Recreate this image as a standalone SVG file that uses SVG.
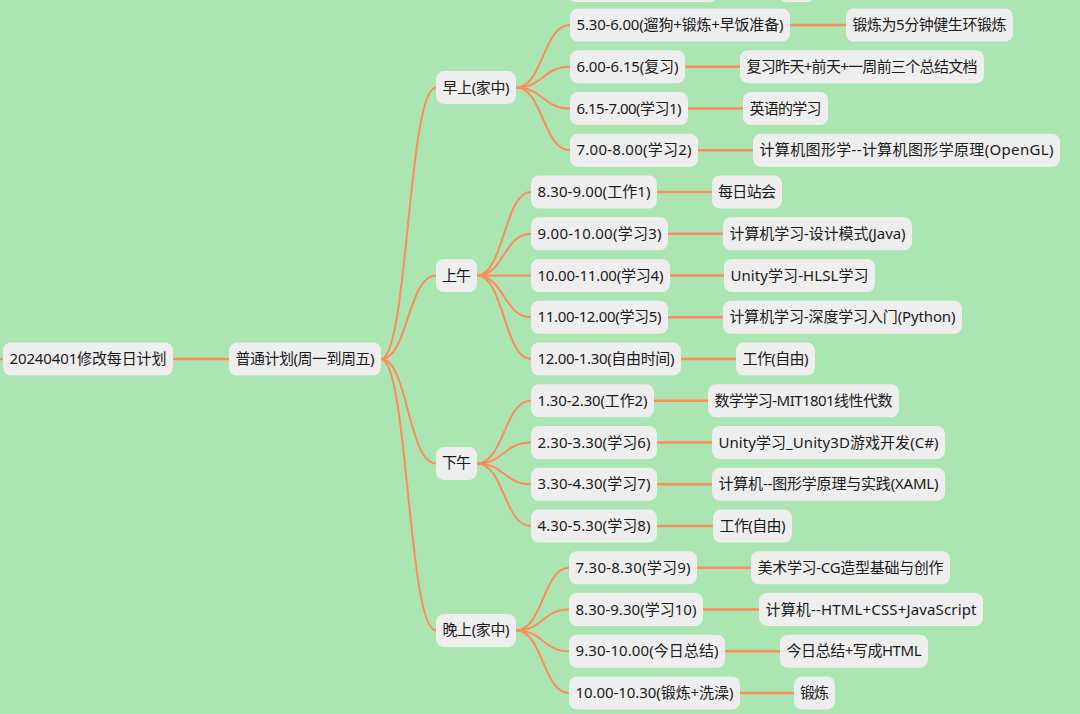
<svg xmlns="http://www.w3.org/2000/svg" width="1080" height="714" viewBox="0 0 1080 714">
<style>
.bg{fill:#abe6b2}
.box{fill:#eeeeee}
.t{font-family:"Noto Sans","Noto Sans CJK SC",sans-serif;font-size:15px;fill:#1a1a1a;text-anchor:middle}
.c{fill:none;stroke:#ff8a5b;stroke-width:2}
.s{fill:none;stroke:#ff8a5b;stroke-width:2.6}
</style>
<rect class="bg" x="0" y="0" width="1080" height="714"/>
<g id="connectors">
<line class="s" x1="0" y1="359" x2="3" y2="359"/>
<line class="s" x1="173" y1="359" x2="229" y2="359"/>
<path class="c" d="M381 359 C408 359 408 87.6 436 87.6"/>
<path class="c" d="M381 359 C408 359 408 275.5 436 275.5"/>
<path class="c" d="M381 359 C408 359 408 463.4 436 463.4"/>
<path class="c" d="M381 359 C408 359 408 630.4 436 630.4"/>
<path class="c" d="M516 87.6 C543 87.6 543 25 570 25"/>
<path class="c" d="M516 87.6 C543 87.6 543 66.75 570 66.75"/>
<path class="c" d="M516 87.6 C543 87.6 543 108.5 570 108.5"/>
<path class="c" d="M516 87.6 C543 87.6 543 150.25 570 150.25"/>
<path class="c" d="M477 275.5 C504 275.5 504 192 531 192"/>
<path class="c" d="M477 275.5 C504 275.5 504 233.75 531 233.75"/>
<path class="c" d="M477 275.5 C504 275.5 504 275.5 531 275.5"/>
<path class="c" d="M477 275.5 C504 275.5 504 317.25 531 317.25"/>
<path class="c" d="M477 275.5 C504 275.5 504 359 531 359"/>
<path class="c" d="M477 463.4 C504 463.4 504 400.75 531 400.75"/>
<path class="c" d="M477 463.4 C504 463.4 504 442.5 531 442.5"/>
<path class="c" d="M477 463.4 C504 463.4 504 484.25 531 484.25"/>
<path class="c" d="M477 463.4 C504 463.4 504 526 531 526"/>
<path class="c" d="M516 630.4 C543 630.4 543 567.75 569 567.75"/>
<path class="c" d="M516 630.4 C543 630.4 543 609.5 569 609.5"/>
<path class="c" d="M516 630.4 C543 630.4 543 651.25 569 651.25"/>
<path class="c" d="M516 630.4 C543 630.4 543 693 569 693"/>
<line class="s" x1="790" y1="25" x2="846" y2="25"/>
<line class="s" x1="685" y1="66.75" x2="740" y2="66.75"/>
<line class="s" x1="688" y1="108.5" x2="743" y2="108.5"/>
<line class="s" x1="698" y1="150.25" x2="753" y2="150.25"/>
<line class="s" x1="657" y1="192" x2="712" y2="192"/>
<line class="s" x1="668" y1="233.75" x2="723" y2="233.75"/>
<line class="s" x1="670" y1="275.5" x2="724" y2="275.5"/>
<line class="s" x1="668" y1="317.25" x2="723" y2="317.25"/>
<line class="s" x1="681" y1="359" x2="736" y2="359"/>
<line class="s" x1="654" y1="400.75" x2="708" y2="400.75"/>
<line class="s" x1="657" y1="442.5" x2="712" y2="442.5"/>
<line class="s" x1="657" y1="484.25" x2="712" y2="484.25"/>
<line class="s" x1="657" y1="526" x2="713" y2="526"/>
<line class="s" x1="697" y1="567.75" x2="751" y2="567.75"/>
<line class="s" x1="703" y1="609.5" x2="759" y2="609.5"/>
<line class="s" x1="725" y1="651.25" x2="780" y2="651.25"/>
<line class="s" x1="740" y1="693" x2="794" y2="693"/>
</g>
<g id="partial-top-1"><rect class="box" x="567" y="-31" width="151" height="33" rx="8"/></g>
<g id="partial-top-2"><rect class="box" x="778" y="-31" width="37" height="33" rx="8"/></g>
<g id="root"><rect class="box" x="3" y="342.5" width="170" height="33" rx="8"/><text class="t" x="88" y="364" textLength="157">20240401修改每日计划</text></g>
<g id="plan"><rect class="box" x="229" y="342.5" width="152" height="33" rx="8"/><text class="t" x="305" y="364" textLength="139">普通计划(周一到周五)</text></g>
<g id="morning"><rect class="box" x="436" y="71.1" width="80" height="33" rx="8"/><text class="t" x="476" y="92.6" textLength="67">早上(家中)</text></g>
<g id="forenoon"><rect class="box" x="436" y="259" width="41" height="33" rx="8"/><text class="t" x="456.5" y="280.5" textLength="29">上午</text></g>
<g id="afternoon"><rect class="box" x="436" y="446.9" width="41" height="33" rx="8"/><text class="t" x="456.5" y="468.4" textLength="29">下午</text></g>
<g id="evening"><rect class="box" x="436" y="613.9" width="80" height="33" rx="8"/><text class="t" x="476" y="635.4" textLength="67">晚上(家中)</text></g>

<g id="m1"><rect class="box" x="570" y="8.5" width="220" height="33" rx="8"/><text class="t" x="680" y="30" textLength="207">5.30-6.00(遛狗+锻炼+早饭准备)</text></g>
<g id="m1-leaf"><rect class="box" x="846" y="8.5" width="167" height="33" rx="8"/><text class="t" x="929.5" y="30" textLength="154">锻炼为5分钟健生环锻炼</text></g>
<g id="m2"><rect class="box" x="570" y="50.25" width="115" height="33" rx="8"/><text class="t" x="627.5" y="71.75" textLength="102">6.00-6.15(复习)</text></g>
<g id="m2-leaf"><rect class="box" x="740" y="50.25" width="244" height="33" rx="8"/><text class="t" x="862" y="71.75" textLength="231">复习昨天+前天+一周前三个总结文档</text></g>
<g id="m3"><rect class="box" x="570" y="92" width="118" height="33" rx="8"/><text class="t" x="629" y="113.5" textLength="105">6.15-7.00(学习1)</text></g>
<g id="m3-leaf"><rect class="box" x="743" y="92" width="85" height="33" rx="8"/><text class="t" x="785.5" y="113.5" textLength="72">英语的学习</text></g>
<g id="m4"><rect class="box" x="570" y="133.75" width="128" height="33" rx="8"/><text class="t" x="634" y="155.25" textLength="115">7.00-8.00(学习2)</text></g>
<g id="m4-leaf"><rect class="box" x="753" y="133.75" width="307" height="33" rx="8"/><text class="t" x="906.5" y="155.25" textLength="294">计算机图形学--计算机图形学原理(OpenGL)</text></g>

<g id="f1"><rect class="box" x="531" y="175.5" width="126" height="33" rx="8"/><text class="t" x="594" y="197" textLength="113">8.30-9.00(工作1)</text></g>
<g id="f1-leaf"><rect class="box" x="712" y="175.5" width="70" height="33" rx="8"/><text class="t" x="747" y="197" textLength="58">每日站会</text></g>
<g id="f2"><rect class="box" x="531" y="217.25" width="137" height="33" rx="8"/><text class="t" x="599.5" y="238.75" textLength="124">9.00-10.00(学习3)</text></g>
<g id="f2-leaf"><rect class="box" x="723" y="217.25" width="189" height="33" rx="8"/><text class="t" x="817.5" y="238.75" textLength="176">计算机学习-设计模式(Java)</text></g>
<g id="f3"><rect class="box" x="531" y="259" width="139" height="33" rx="8"/><text class="t" x="600.5" y="280.5" textLength="126">10.00-11.00(学习4)</text></g>
<g id="f3-leaf"><rect class="box" x="724" y="259" width="151" height="33" rx="8"/><text class="t" x="799.5" y="280.5" textLength="138">Unity学习-HLSL学习</text></g>
<g id="f4"><rect class="box" x="531" y="300.75" width="137" height="33" rx="8"/><text class="t" x="599.5" y="322.25" textLength="124">11.00-12.00(学习5)</text></g>
<g id="f4-leaf"><rect class="box" x="723" y="300.75" width="239" height="33" rx="8"/><text class="t" x="842.5" y="322.25" textLength="226">计算机学习-深度学习入门(Python)</text></g>
<g id="f5"><rect class="box" x="531" y="342.5" width="150" height="33" rx="8"/><text class="t" x="606" y="364" textLength="137">12.00-1.30(自由时间)</text></g>
<g id="f5-leaf"><rect class="box" x="736" y="342.5" width="79" height="33" rx="8"/><text class="t" x="775.5" y="364" textLength="66">工作(自由)</text></g>

<g id="a1"><rect class="box" x="531" y="384.25" width="123" height="33" rx="8"/><text class="t" x="592.5" y="405.75" textLength="110">1.30-2.30(工作2)</text></g>
<g id="a1-leaf"><rect class="box" x="708" y="384.25" width="191" height="33" rx="8"/><text class="t" x="803.5" y="405.75" textLength="178">数学学习-MIT1801线性代数</text></g>
<g id="a2"><rect class="box" x="531" y="426" width="126" height="33" rx="8"/><text class="t" x="594" y="447.5" textLength="113">2.30-3.30(学习6)</text></g>
<g id="a2-leaf"><rect class="box" x="712" y="426" width="233" height="33" rx="8"/><text class="t" x="828.5" y="447.5" textLength="220">Unity学习_Unity3D游戏开发(C#)</text></g>
<g id="a3"><rect class="box" x="531" y="467.75" width="126" height="33" rx="8"/><text class="t" x="594" y="489.25" textLength="113">3.30-4.30(学习7)</text></g>
<g id="a3-leaf"><rect class="box" x="712" y="467.75" width="233" height="33" rx="8"/><text class="t" x="828.5" y="489.25" textLength="220">计算机--图形学原理与实践(XAML)</text></g>
<g id="a4"><rect class="box" x="531" y="509.5" width="126" height="33" rx="8"/><text class="t" x="594" y="531" textLength="113">4.30-5.30(学习8)</text></g>
<g id="a4-leaf"><rect class="box" x="713" y="509.5" width="79" height="33" rx="8"/><text class="t" x="752.5" y="531" textLength="66">工作(自由)</text></g>

<g id="e1"><rect class="box" x="569" y="551.25" width="128" height="33" rx="8"/><text class="t" x="633" y="572.75" textLength="115">7.30-8.30(学习9)</text></g>
<g id="e1-leaf"><rect class="box" x="751" y="551.25" width="199" height="33" rx="8"/><text class="t" x="850.5" y="572.75" textLength="186">美术学习-CG造型基础与创作</text></g>
<g id="e2"><rect class="box" x="569" y="593" width="134" height="33" rx="8"/><text class="t" x="636" y="614.5" textLength="121">8.30-9.30(学习10)</text></g>
<g id="e2-leaf"><rect class="box" x="759" y="593" width="224" height="33" rx="8"/><text class="t" x="871" y="614.5" textLength="211">计算机--HTML+CSS+JavaScript</text></g>
<g id="e3"><rect class="box" x="569" y="634.75" width="156" height="33" rx="8"/><text class="t" x="647" y="656.25" textLength="143">9.30-10.00(今日总结)</text></g>
<g id="e3-leaf"><rect class="box" x="780" y="634.75" width="148" height="33" rx="8"/><text class="t" x="854" y="656.25" textLength="135">今日总结+写成HTML</text></g>
<g id="e4"><rect class="box" x="569" y="676.5" width="171" height="33" rx="8"/><text class="t" x="654.5" y="698" textLength="158">10.00-10.30(锻炼+洗澡)</text></g>
<g id="e4-leaf"><rect class="box" x="794" y="676.5" width="41" height="33" rx="8"/><text class="t" x="814.5" y="698" textLength="29">锻炼</text></g>
</svg>
